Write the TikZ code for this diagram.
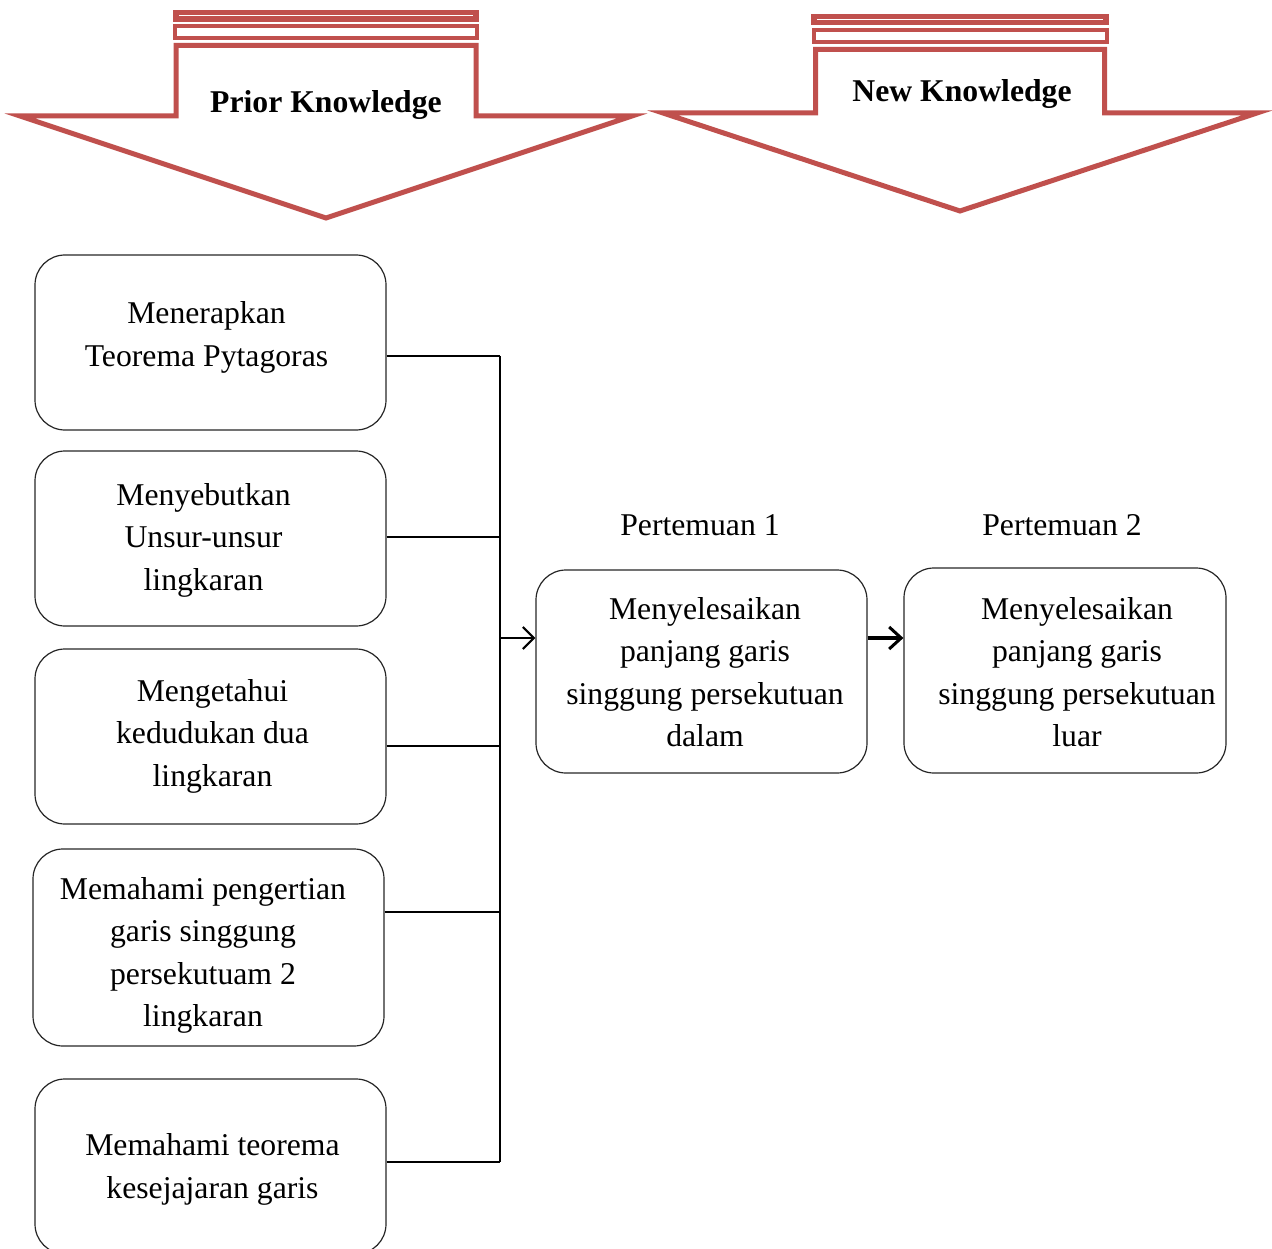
\documentclass[tikz,border=0pt]{standalone}
\usepackage{fontspec}
\setmainfont{Liberation Serif}
\usetikzlibrary{arrows.meta}
\definecolor{kred}{HTML}{C0504D}
\newcommand{\movetext}[3]{\smash{\raisebox{#2}{\hspace*{#1}\begin{tabular}{@{}c@{}}#3\end{tabular}\hspace*{-#1}}}}
\tikzset{
  box/.style={draw=black!85, line width=1.2pt, rounded corners=30pt, align=center,
    font=\fontsize{31.7}{42.5}\selectfont, inner sep=0pt},
  lbl/.style={font=\fontsize{31.7}{42.5}\selectfont, inner sep=0pt},
  knarrow/.style={draw=kred, line width=5pt, fill=white, line join=miter},
  conn/.style={draw=black, line width=1.6pt},
  tip/.style={-{Straight Barb[length=11pt,width=22pt,line width=2.2pt]}}
}
\begin{document}
\begin{tikzpicture}[x=1pt,y=-1pt]
\useasboundingbox (0,0) rectangle (1272,1249);
% Prior Knowledge arrow
\fill[kred] (173,10) rectangle (479,22);
\draw[white, line width=1pt] (179,16) -- (473,16);
\draw[kred, line width=4pt] (175,26) rectangle (477,38);
\draw[knarrow] (176,45.5) -- (476,45.5) -- (476,116) -- (632,116) -- (326,218) -- (20,116) -- (176,116) -- cycle;
\node[font=\bfseries\fontsize{31.7}{38}\selectfont] (pk) at (326,105) {Prior Knowledge};
% New Knowledge arrow
\fill[kred] (811,14) rectangle (1109,25);
\draw[white, line width=1pt] (817,19.5) -- (1103,19.5);
\draw[kred, line width=4pt] (813.5,30) rectangle (1106.5,42);
\draw[knarrow] (815.5,49.5) -- (1104.5,49.5) -- (1104.5,113) -- (1257,113) -- (960,211) -- (663,113) -- (815.5,113) -- cycle;
\node[font=\bfseries\fontsize{31.7}{38}\selectfont] (nk) at (962,94) {New Knowledge};
% Left boxes
\node[box, minimum width=351pt, minimum height=175pt] (b1) at (210.5,342.5)
  {\movetext{-4pt}{0pt}{Menerapkan\\Teorema Pytagoras}};
\node[box, minimum width=351pt, minimum height=175pt] (b2) at (210.5,538.5)
  {\movetext{-7pt}{-7pt}{Menyebutkan\\Unsur-unsur\\lingkaran}};
\node[box, minimum width=351pt, minimum height=175pt] (b3) at (210.5,736.5)
  {\movetext{2pt}{-5pt}{Mengetahui\\kedudukan dua\\lingkaran}};
\node[box, minimum width=351pt, minimum height=197pt] (b4) at (208.5,947.5)
  {\movetext{-5.5pt}{-13pt}{Memahami pengertian\\garis singgung\\persekutuam 2\\lingkaran}};
\node[box, minimum width=351pt, minimum height=175pt] (b5) at (210.5,1166.5)
  {\movetext{2pt}{-8pt}{Memahami teorema\\kesejajaran garis}};
% Right boxes
\node[box, minimum width=331pt, minimum height=203pt] (b6) at (701.5,671.5)
  {\movetext{3.5pt}{-9pt}{Menyelesaikan\\panjang garis\\singgung persekutuan\\dalam}};
\node[box, minimum width=322pt, minimum height=205pt] (b7) at (1065,670.5)
  {\movetext{12pt}{-10pt}{Menyelesaikan\\panjang garis\\singgung persekutuan\\luar}};
\node[lbl] (p1) at (700,525) {Pertemuan 1};
\node[lbl] (p2) at (1062,525) {Pertemuan 2};
% Connectors
\coordinate (bus1) at (500,356);
\coordinate (bus5) at (500,1162);
\coordinate (busm) at (500,638);
\draw[conn] (b1.east |- bus1) -- (bus1);
\draw[conn] (b2.east |- 0,537) -- (500,537);
\draw[conn] (b3.east |- 0,746) -- (500,746);
\draw[conn] (b4.east |- 0,912) -- (500,912);
\draw[conn] (b5.east |- bus5) -- (bus5);
\draw[conn] (bus1) -- (bus5);
\draw[conn, tip] (busm) -- (b6.west |- busm);
\draw[conn, line width=3.2pt, -{Straight Barb[length=12pt,width=22pt,line width=3pt]}] (b6.east |- busm) -- (b7.west |- busm);
\end{tikzpicture}
\end{document}
